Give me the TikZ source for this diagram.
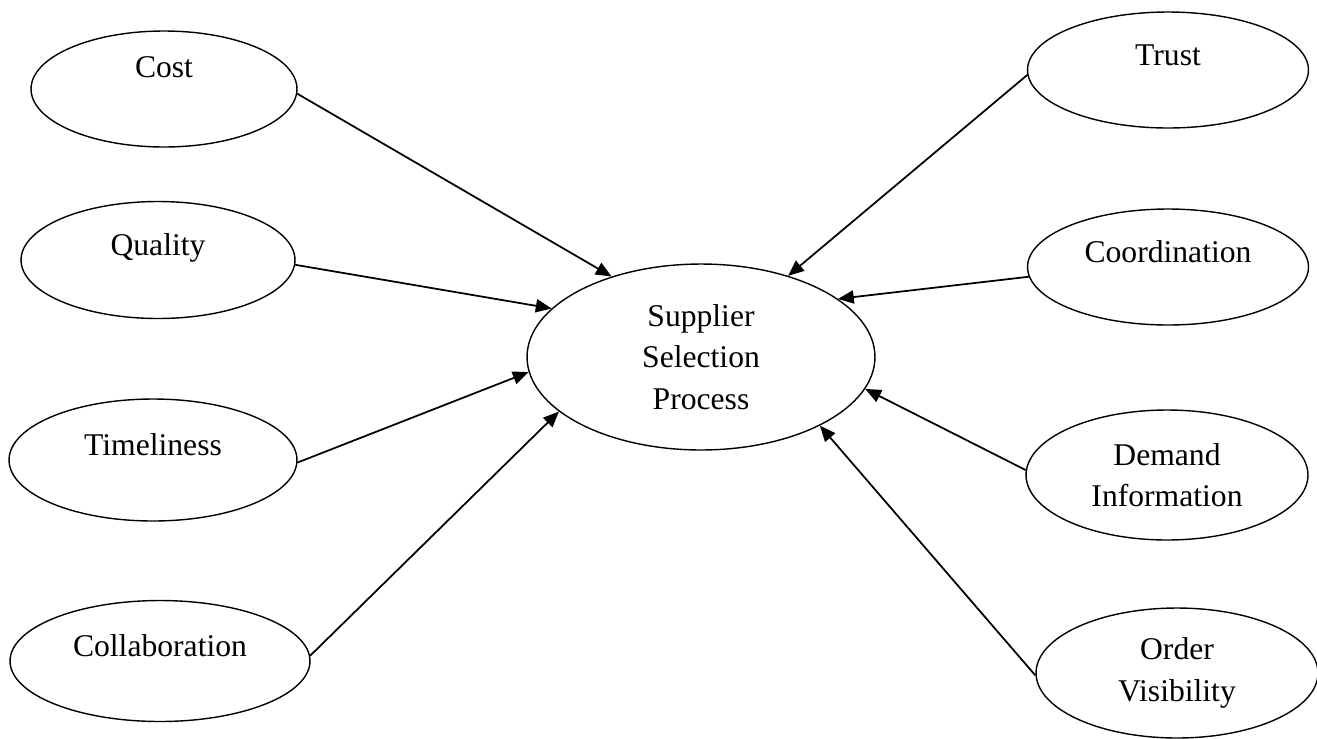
\documentclass[tikz,border=0pt]{standalone}
\usepackage{fontspec}
\setmainfont{Liberation Serif}
\usetikzlibrary{shapes.geometric,arrows.meta}

\tikzset{
    factor/.style={draw, ellipse, line width=0.8pt, inner sep=0pt,
        font=\fontsize{18pt}{23.5pt}\selectfont, align=center},
    oneline/.style={text height=0.4cm, text depth=0.6cm},
    link/.style={line width=1pt, -{Triangle[length=9pt,width=7.5pt]}}
}

\begin{document}
\begin{tikzpicture}[x=0.02cm, y=-0.02cm]

    \useasboundingbox (0,0) rectangle (1317,738);

    % the central process
    \node[factor, minimum width=6.96cm, minimum height=3.72cm] (ssp) at (701,357) {Supplier\\Selection\\Process};

    % these are the factors on the left
    \node[factor, oneline, text depth=0.85cm, minimum width=5.32cm, minimum height=2.32cm] (cost) at (164,89) {Cost};
    \node[factor, oneline, minimum width=5.48cm, minimum height=2.34cm] (quality) at (158,260) {Quality};
    \node[factor, oneline, minimum width=5.76cm, minimum height=2.44cm] (timeliness) at (153,460) {Timeliness};
    \node[factor, oneline, minimum width=6.0cm, minimum height=2.42cm] (collab) at (160,661) {Collaboration};

    % these are the factors on the right
    \node[factor, oneline, minimum width=5.62cm, minimum height=2.32cm] (trust) at (1168,70) {Trust};
    \node[factor, oneline, minimum width=5.62cm, minimum height=2.32cm] (coord) at (1168,267) {Coordination};
    \node[factor, minimum width=5.64cm, minimum height=2.6cm] (demand) at (1167,475) {Demand\\Information};
    \node[factor, minimum width=5.64cm, minimum height=2.6cm] (order) at (1177,673) {Order\\Visibility};

    \draw[link] (cost.-2) -- (ssp.138);
    \draw[link] (quality.-2) -- (ssp.162);
    \draw[link] (timeliness.-1) -- (ssp.185);
    \draw[link] (collab.2) -- (ssp.201);
    \draw[link] (trust.182) -- (ssp.43);
    \draw[link] (coord.184) -- (ssp.23);
    \draw[link] (demand.178) -- (ssp.-11.5);
    \draw[link] (order.181) -- (ssp.-30);

\end{tikzpicture}
\end{document}
